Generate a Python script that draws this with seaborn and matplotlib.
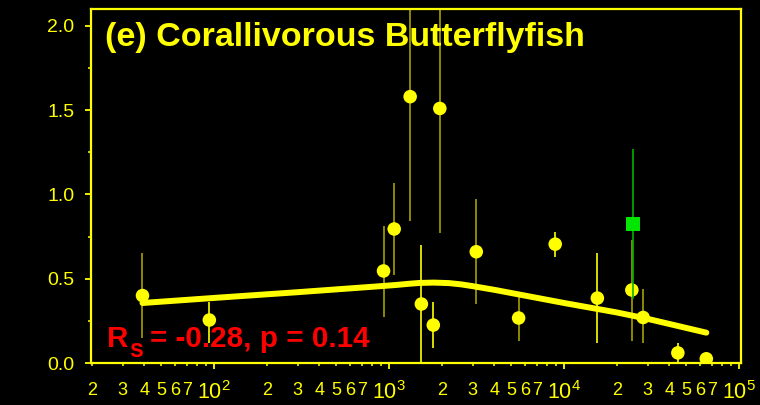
import matplotlib
matplotlib.use("Agg")
import matplotlib.pyplot as plt
import matplotlib.ticker as mticker
import numpy as np
import seaborn as sns

# reef area (log x) vs density
area = [39, 94, 930, 1070, 1320, 1530, 1790, 1950, 3150, 5500, 8900, 15500, 24400, 28300, 44700, 65000]
density = [0.40, 0.255, 0.546, 0.795, 1.58, 0.35, 0.225, 1.51, 0.66, 0.267, 0.705, 0.385, 0.433, 0.27, 0.06, 0.025]
err_lo = [0.15, 0.12, 0.27, 0.52, 0.84, 0.0, 0.09, 0.77, 0.35, 0.13, 0.63, 0.12, 0.13, 0.12, 0.0, 0.0]
err_hi = [0.65, 0.36, 0.81, 1.07, 2.5, 0.70, 0.36, 2.5, 0.97, 0.39, 0.78, 0.65, 0.73, 0.44, 0.12, 0.03]
err_kind = ["dark", "bright", "dark", "dark", "dark", "bright", "bright", "dark",
            "dark", "dark", "bright", "bright", "dark", "dark", "bright", "bright"]

# outlier shown in green
out_area = [24800]
out_density = [0.825]
out_lo = [0.38]
out_hi = [1.27]

# smoothed fit
fit_x = [39, 100, 300, 900, 1100, 1300, 1500, 1800, 2200, 2600, 3000, 4000, 5000,
         10000, 20000, 30000, 65000]
fit_y = [0.356, 0.386, 0.420, 0.456, 0.463, 0.470, 0.475, 0.477, 0.474, 0.466, 0.456,
         0.434, 0.415, 0.356, 0.300, 0.262, 0.180]

title = "(e) Corallivorous Butterflyfish"
stat_main = "R"
stat_sub = "s"
stat_rest = "= -0.28, p = 0.14"

YELLOW = "#ffff00"
OLIVE = "#a89f00"
GREEN = "#00e600"
GREEN_LINE = "#00b400"
RED = "#ff0000"

sns.set_theme(style="dark", rc={
    "figure.facecolor": "black",
    "axes.facecolor": "black",
    "axes.edgecolor": YELLOW,
    "axes.linewidth": 1.6,
    "axes.grid": False,
    "xtick.color": YELLOW,
    "ytick.color": YELLOW,
})
plt.rcParams["font.family"] = ["Liberation Sans", "DejaVu Sans"]
plt.rcParams["mathtext.fontset"] = "custom"
plt.rcParams["mathtext.rm"] = "Liberation Sans"
plt.rcParams["mathtext.bf"] = "Liberation Sans:bold"
plt.rcParams["mathtext.it"] = "Liberation Sans:italic"

fig = plt.figure(figsize=(7.6, 4.05), dpi=100)
ax = fig.add_axes([0.1197, 0.1037, 0.8553, 0.8741])

colors = [OLIVE if k == "dark" else YELLOW for k in err_kind]
ax.vlines(area, err_lo, err_hi, colors=colors, lw=1.2, zorder=2)

sns.lineplot(x=fit_x, y=fit_y, ax=ax, color=YELLOW, lw=4.3, zorder=3,
             estimator=None, sort=True)
sns.scatterplot(x=area, y=density, ax=ax, color=YELLOW, s=95, edgecolor="none",
                zorder=4, legend=False)

ax.vlines(out_area, out_lo, out_hi, colors=GREEN_LINE, lw=1.2, zorder=5)
sns.scatterplot(x=out_area, y=out_density, ax=ax, color=GREEN, marker="s", s=90,
                edgecolor="none", zorder=6, legend=False)

ax.set_xscale("log")
ax.set_xlim(19.8, 1.026e5)
ax.set_ylim(0, 2.1)

ax.xaxis.set_major_locator(mticker.LogLocator(base=10, numticks=10))
ax.xaxis.set_minor_locator(mticker.LogLocator(base=10, subs=np.arange(2, 10), numticks=20))
ax.xaxis.set_major_formatter(mticker.LogFormatterSciNotation())


def minor_label(v, pos):
    m = int(round(v / 10 ** np.floor(np.log10(v))))
    return str(m) if 2 <= m <= 7 else ""


ax.xaxis.set_minor_formatter(mticker.FuncFormatter(minor_label))
ax.yaxis.set_major_locator(mticker.MultipleLocator(0.5))
ax.yaxis.set_minor_locator(mticker.MultipleLocator(0.25))
ax.yaxis.set_major_formatter(mticker.FormatStrFormatter("%.1f"))

ax.tick_params(axis="x", which="major", bottom=True, direction="out", length=4.3,
               width=1.3, pad=9, labelsize=15.5, colors=YELLOW)
ax.tick_params(axis="x", which="minor", bottom=True, direction="out", length=2.2,
               width=1.1, pad=11.5, labelsize=13, colors=YELLOW)
ax.tick_params(axis="y", which="major", left=True, direction="out", length=4.3,
               width=1.3, pad=7.5, labelsize=14, colors=YELLOW)
ax.tick_params(axis="y", which="minor", left=True, direction="out", length=2.2,
               width=1.1, colors=YELLOW)

for s in ax.spines.values():
    s.set_visible(True)
    s.set_color(YELLOW)

ax.text(0.0215, 0.963, title, transform=ax.transAxes, color=YELLOW,
        fontsize=24.5, fontweight="bold", va="top", ha="left")

# R_s statistic: large subscript, built from three pieces
stat_kw = dict(transform=ax.transAxes, color=RED, fontweight="bold",
               va="baseline", ha="left", zorder=7)
ax.text(0.0246, 0.045, stat_main, fontsize=21.3, **stat_kw)
ax.text(0.0585, 0.017, stat_sub, fontsize=18, **stat_kw)
ax.text(0.0915, 0.045, stat_rest, fontsize=21.3, **stat_kw)

fig.savefig("out.png", dpi=100, facecolor="black")
